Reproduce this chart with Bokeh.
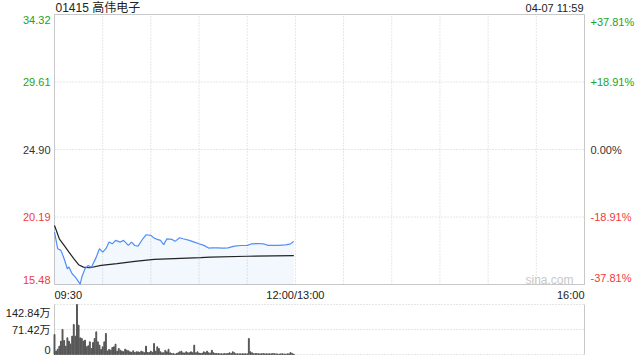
from bokeh.plotting import figure
from bokeh.models import Range1d
from bokeh.core.properties import value
from bokeh.embed import file_html
from bokeh.resources import INLINE

# ---------------- data ----------------
title_text = "01415 高伟电子"
stamp_text = "04-07 11:59"
watermark_text = "sina.com"

price_ticks = [34.32, 29.61, 24.90, 20.19, 15.48]
price_tick_labels = ["34.32", "29.61", "24.90", "20.19", "15.48"]
pct_tick_labels = ["+37.81%", "+18.91%", "0.00%", "-18.91%", "-37.81%"]
tick_sides = ["up", "up", "flat", "down", "down"]

x_tick_minutes = [0, 150, 330]
x_tick_labels = ["09:30", "12:00/13:00", "16:00"]
grid_minutes = [0, 30, 60, 90, 120, 150, 180, 210, 240, 270, 300, 330]

# trading minutes since 09:30 (lunch break removed)
price_minutes = [0, 2, 4, 6, 8, 9, 11, 13, 16, 17, 19, 21, 23, 26, 28, 30, 32, 34, 36, 38,
                 41, 43, 46, 48, 50, 52, 55, 57, 60, 62, 64, 66, 68, 70, 73, 75, 78, 80, 84,
                 87, 90, 93, 96, 98, 101, 105, 108, 112, 116, 120, 123, 127, 130, 133, 136,
                 139, 144, 147, 149]
price_values = [19.14, 17.98, 17.86, 17.28, 16.58, 16.70, 16.23, 15.99, 15.50, 16.00, 16.58,
                16.81, 16.69, 17.39, 17.98, 17.74, 17.98, 18.44, 18.32, 18.56, 18.44, 18.56,
                18.21, 18.44, 18.20, 18.16, 18.67, 18.95, 18.91, 18.72, 18.63, 18.56, 18.26,
                18.67, 18.63, 18.49, 18.74, 18.67, 18.56, 18.44, 18.32, 18.21, 18.02, 18.04,
                18.04, 18.02, 18.04, 18.16, 18.20, 18.21, 18.32, 18.34, 18.32, 18.21, 18.21,
                18.21, 18.25, 18.32, 18.49]

avg_minutes = [0, 3, 6, 9, 12, 15, 18, 22, 29, 39, 50, 62, 91, 97, 120, 149]
avg_values = [19.60, 18.67, 18.21, 17.74, 17.28, 16.86, 16.69, 16.65, 16.81, 16.93, 17.09,
              17.23, 17.35, 17.39, 17.45, 17.49]

# volume per minute, in 万 shares
volume = [57.1, 10, 15.2, 23.8, 38.1, 71.4, 40, 23.8, 47.6, 38.1,
          30, 52.4, 85.7, 52.4, 142.84, 83.8, 47.6, 45.7, 38.1, 41,
          21.9, 25, 36.2, 17.1, 34.3, 45.7, 64.7, 36.2, 26.7, 14.3,
          21.9, 36.2, 60, 10, 14.3, 12.4, 20, 21.9, 29.5, 9.5,
          17.1, 12.4, 9.5, 7.6, 15.2, 12.4, 10.5, 7.6, 6, 10.5,
          5.7, 7.6, 7.6, 6, 9.5, 7.6, 5, 23.8, 5.7, 5.7,
          9.5, 6, 31.4, 9.5, 22, 17, 7.6, 4.8, 5, 12,
          7.6, 15, 4.8, 2.9, 3, 1, 2.9, 4.8, 7.6, 9.5,
          4.8, 4, 7.6, 5, 4.8, 7.6, 5, 26.7, 4.8, 7.6,
          4, 2.9, 4, 7.6, 4.8, 9.5, 4.8, 4, 12, 4.8,
          3, 2.9, 2.9, 1.9, 2, 1.9, 2.9, 2, 3, 4.8,
          2.9, 7.6, 4.8, 2, 1.9, 2, 1.9, 2, 1.9, 2,
          1.9, 45.7, 7.6, 4.8, 2, 2.9, 2.9, 2, 1.9, 2,
          2.9, 1.9, 2, 1.9, 2, 2, 2.9, 2, 1.9, 1.5,
          1, 2, 1.9, 1.5, 1, 1.9, 2, 5.7, 2.9, 1]
volume_minutes = list(range(len(volume)))

vol_ticks = [142.84, 71.42, 0]
vol_tick_labels = ["142.84万", "71.42万", "0"]

# ---------------- layout / style ----------------
W, H = 640, 360
PANEL_LEFT, PANEL_RIGHT = 54, 584          # pixel columns of both panels
MAIN_TOP, MAIN_BOTTOM = 14, 284            # pixel rows of the price panel
VOL_TOP, VOL_BOTTOM = 304, 354             # pixel rows of the volume panel

GREEN = "#22a322"
RED = "#f23a3a"
BLACK = "#333333"
TEXT = "#222222"
SIDE_COLOR = {"up": GREEN, "flat": BLACK, "down": RED}
FONT = value("Liberation Sans, Noto Sans CJK SC")
BORDER = "#c8c8c8"
GRID = "#cdcdcd"

x_lo, x_hi = grid_minutes[0], grid_minutes[-1]
p_lo, p_hi = price_ticks[-1], price_ticks[0]
v_lo, v_hi = vol_ticks[-1], vol_ticks[0]


def extend(lo, hi, a_px, b_px, before_px, after_px):
    """range so that [lo, hi] occupies pixels a..b of a span of length before+..+after"""
    k = (hi - lo) / (b_px - a_px)
    return lo - before_px * k, hi + after_px * k


xr = extend(x_lo, x_hi, PANEL_LEFT, PANEL_RIGHT, PANEL_LEFT, W - PANEL_RIGHT)
pr = extend(p_lo, p_hi, MAIN_TOP, MAIN_BOTTOM, H - MAIN_BOTTOM, MAIN_TOP)
vr = extend(v_lo, v_hi, VOL_TOP, VOL_BOTTOM, H - VOL_BOTTOM, VOL_TOP)

p = figure(width=W, height=H, output_backend="svg", toolbar_location=None,
           x_axis_location=None, y_axis_location=None, min_border=0,
           x_range=Range1d(*xr), y_range=Range1d(*pr))
for g in list(p.grid):
    g.visible = False
p.outline_line_color = None
p.extra_y_ranges = {"vol": Range1d(*vr)}

# ---- price panel grid + border
p.segment(x0=grid_minutes, x1=grid_minutes, y0=[p_lo] * len(grid_minutes),
          y1=[p_hi] * len(grid_minutes), line_color=GRID, line_dash="1 2", line_width=1)
p.segment(x0=[x_lo] * len(price_ticks), x1=[x_hi] * len(price_ticks), y0=price_ticks,
          y1=price_ticks, line_color=GRID, line_dash="1 2", line_width=1)
p.quad(left=[x_lo], right=[x_hi], bottom=[p_lo], top=[p_hi], fill_color=None,
       line_color=BORDER, line_width=1)

# ---- price series
p.varea(x=price_minutes, y1=[p_lo] * len(price_minutes), y2=price_values,
        fill_color="#4f8ff7", fill_alpha=0.07)
p.line(avg_minutes, avg_values, line_color="#222222", line_width=1.2)
p.line(price_minutes, price_values, line_color="#4f8ff7", line_width=1.2)

# ---- price panel labels
n = len(price_ticks)
for i, (yv, lab, pct, side) in enumerate(zip(price_ticks, price_tick_labels, pct_tick_labels, tick_sides)):
    base = "top" if i == 0 else ("bottom" if i == n - 1 else "middle")
    yo = 1 if i == 0 else (-1 if i == n - 1 else 0)
    col = SIDE_COLOR[side]
    p.text(x=[x_lo], y=[yv], text=[lab], x_offset=-4, y_offset=yo, text_align="right",
           text_baseline=base, text_color=col, text_font=FONT, text_font_size="11px")
    p.text(x=[x_hi], y=[yv], text=[pct], x_offset=6, y_offset=yo, text_align="left",
           text_baseline=base, text_color=col, text_font=FONT, text_font_size="11px")

p.text(x=[x_lo], y=[p_hi], text=[title_text], x_offset=1, y_offset=-7, text_align="left",
       text_baseline="middle", text_color=TEXT, text_font=FONT, text_font_size="12px")
p.text(x=[x_hi], y=[p_hi], text=[stamp_text], x_offset=-1, y_offset=-7, text_align="right",
       text_baseline="middle", text_color=TEXT, text_font=FONT, text_font_size="11px")
p.text(x=[x_hi], y=[p_lo], text=[watermark_text], x_offset=-11, y_offset=-5,
       text_align="right", text_baseline="middle", text_color="#c8c8c8", text_font=FONT,
       text_font_size="12px")

aligns = ["left", "center", "right"]
for xm, lab, al in zip(x_tick_minutes, x_tick_labels, aligns):
    p.text(x=[xm], y=[p_lo], text=[lab], y_offset=10, text_align=al, text_baseline="middle",
           text_color=TEXT, text_font=FONT, text_font_size="11px")

# ---- volume panel
p.segment(x0=[x_lo] * len(vol_ticks), x1=[x_hi] * len(vol_ticks), y0=vol_ticks,
          y1=vol_ticks, line_color=GRID, line_dash="1 2", line_width=1, y_range_name="vol")
p.segment(x0=[x_lo, x_hi], x1=[x_lo, x_hi], y0=[v_lo, v_lo], y1=[v_hi, v_hi],
          line_color=BORDER, line_width=1, y_range_name="vol")
p.vbar(x=volume_minutes, top=volume, bottom=0, width=0.55, color="#555555",
       y_range_name="vol")

m = len(vol_ticks)
for i, (yv, lab) in enumerate(zip(vol_ticks, vol_tick_labels)):
    base = "top" if i == 0 else ("bottom" if i == m - 1 else "middle")
    yo = 2 if i == 0 else (-1 if i == m - 1 else 0)
    p.text(x=[x_lo], y=[yv], text=[lab], x_offset=-4, y_offset=yo, text_align="right",
           text_baseline=base, text_color=TEXT, text_font=FONT, text_font_size="11px",
           y_range_name="vol")

open("out.html", "w").write(file_html(p, INLINE))
